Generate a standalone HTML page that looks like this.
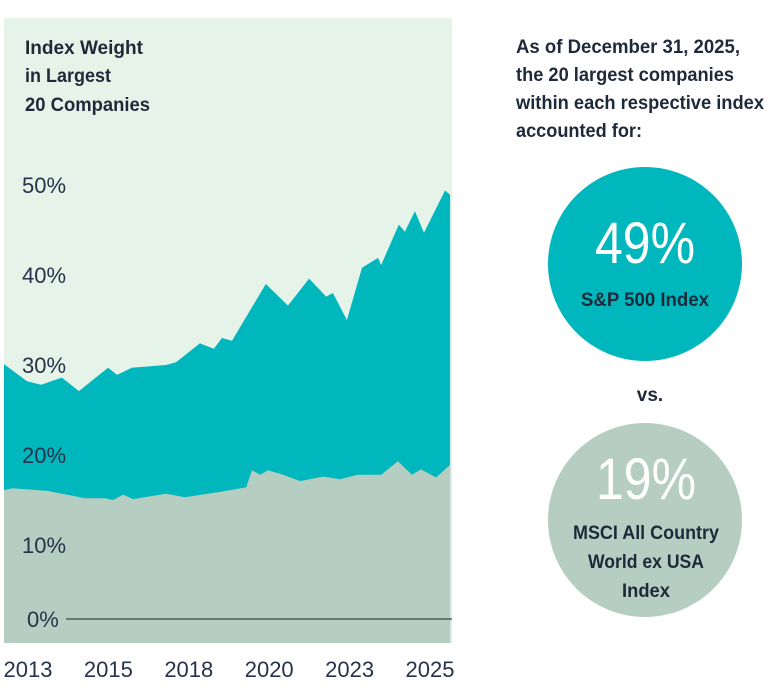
<!DOCTYPE html>
<html><head><meta charset="utf-8"><style>
html,body{margin:0;padding:0;background:#fff;}
svg{display:block;font-family:"Liberation Sans",sans-serif;}
</style></head><body>
<svg id="chart" width="771" height="699" viewBox="0 0 771 699">
<rect x="4" y="18" width="448" height="625" fill="#e5f3e8"/>
<g id="areas"></g>
<line x1="66" y1="619" x2="452" y2="619" stroke="#3a4540" stroke-width="1.2"/>
<g fill="#1e2a3a" font-weight="bold" font-size="19">
<text x="25" y="54" textLength="118" lengthAdjust="spacingAndGlyphs">Index Weight</text>
<text x="25" y="82" textLength="86" lengthAdjust="spacingAndGlyphs">in Largest</text>
<text x="25" y="111" textLength="125" lengthAdjust="spacingAndGlyphs">20 Companies</text>
</g>
<g id="yticks" fill="#26334a" font-size="22"></g>
<g id="xticks" fill="#26334a" font-size="22" text-anchor="middle"></g>
<g fill="#1e2a3a" font-weight="bold" font-size="19">
<text x="516" y="53" textLength="224" lengthAdjust="spacingAndGlyphs">As of December 31, 2025,</text>
<text x="516" y="81" textLength="218" lengthAdjust="spacingAndGlyphs">the 20 largest companies</text>
<text x="516" y="109" textLength="248" lengthAdjust="spacingAndGlyphs">within each respective index</text>
<text x="516" y="137" textLength="126" lengthAdjust="spacingAndGlyphs">accounted for:</text>
</g>
<circle cx="645" cy="264" r="97" fill="#00b7bd"/>
<text x="645" y="263" text-anchor="middle" font-size="58" fill="#fff" textLength="100" lengthAdjust="spacingAndGlyphs">49%</text>
<text x="645" y="306" text-anchor="middle" font-size="19" font-weight="bold" fill="#1e2a3a" textLength="128" lengthAdjust="spacingAndGlyphs">S&amp;P 500 Index</text>
<text x="650" y="401" text-anchor="middle" font-size="19" font-weight="bold" fill="#1e2a3a">vs.</text>
<circle cx="645" cy="520" r="97" fill="#b6cec2"/>
<text x="646" y="499" text-anchor="middle" font-size="58" fill="#fff" textLength="100" lengthAdjust="spacingAndGlyphs">19%</text>
<g text-anchor="middle" font-size="19" font-weight="bold" fill="#1e2a3a">
<text x="646" y="539" textLength="146" lengthAdjust="spacingAndGlyphs">MSCI All Country</text>
<text x="646" y="568" textLength="116" lengthAdjust="spacingAndGlyphs">World ex USA</text>
<text x="646" y="597" textLength="48" lengthAdjust="spacingAndGlyphs">Index</text>
</g>
</svg>
<script>
const spYears=[2012.28,2012.97,2013.39,2014.01,2014.52,2015.39,2015.66,2016.10,2017.12,2017.42,2018.13,2018.55,2018.79,2019.09,2020.10,2020.76,2021.39,2021.90,2022.10,2022.52,2022.97,2023.45,2023.54,2024.07,2024.25,2024.55,2024.82,2025.45,2025.60];
const spValues=[30.1,28.2,27.8,28.6,27.1,29.7,28.9,29.7,30.0,30.3,32.4,31.8,33.0,32.7,39.0,36.6,39.6,37.6,38.0,35.0,40.8,41.9,41.1,45.6,44.8,47.1,44.7,49.4,48.9];
const acYears=[2012.28,2012.55,2013.60,2014.70,2015.30,2015.54,2015.84,2016.13,2017.12,2017.69,2018.73,2019.51,2019.69,2019.93,2020.16,2020.61,2021.12,2021.81,2022.31,2022.84,2023.54,2024.04,2024.46,2024.73,2025.18,2025.60];
const acValues=[16.1,16.3,16.0,15.2,15.2,15.0,15.6,15.1,15.7,15.3,15.9,16.4,18.3,17.8,18.3,17.8,17.1,17.6,17.3,17.8,17.8,19.3,17.8,18.4,17.5,18.9];
const yTickVals=[0,10,20,30,40,50];
const yTickLabels=["0%","10%","20%","30%","40%","50%"];
const xTickLabels=["2013","2015","2018","2020","2023","2025"];
const NS="http://www.w3.org/2000/svg";
function xs(yr){return 28+(yr-2013)*33.5;}
function ys(v){return 545-(v-10)*9.0;}
function tickY(v){return v===0?619:ys(v);}
function tickX(i){return 28+i*(430-28)/(xTickLabels.length-1);}
const BASE=643;
function areaPath(years,vals){
  let d="M"+Math.max(4,xs(years[0]))+","+BASE;
  for(let i=0;i<years.length;i++){d+=" L"+Math.min(452,Math.max(4,xs(years[i])))+","+ys(vals[i]);}
  d+=" L"+Math.min(452,xs(years[years.length-1]))+","+BASE+" Z";
  return d;
}
const areas=document.getElementById('areas');
const p1=document.createElementNS(NS,'path');
p1.setAttribute('d',areaPath(spYears,spValues));
p1.setAttribute('fill','#00b7bd');


areas.appendChild(p1);
const p2=document.createElementNS(NS,'path');
p2.setAttribute('d',areaPath(acYears,acValues));
p2.setAttribute('fill','#b6cec2');


areas.appendChild(p2);
const yg=document.getElementById('yticks');
yTickVals.forEach((v,i)=>{
  const t=document.createElementNS(NS,'text');
  t.setAttribute('x',v===0?27:22);
  t.setAttribute('y',tickY(v)+8);
  t.textContent=yTickLabels[i];
  
  
  yg.appendChild(t);
});
const xg=document.getElementById('xticks');
xTickLabels.forEach((lab,i)=>{
  const t=document.createElementNS(NS,'text');
  t.setAttribute('x',tickX(i));
  t.setAttribute('y',677);
  t.textContent=lab;
  
  
  xg.appendChild(t);
});
</script>
</body></html>
